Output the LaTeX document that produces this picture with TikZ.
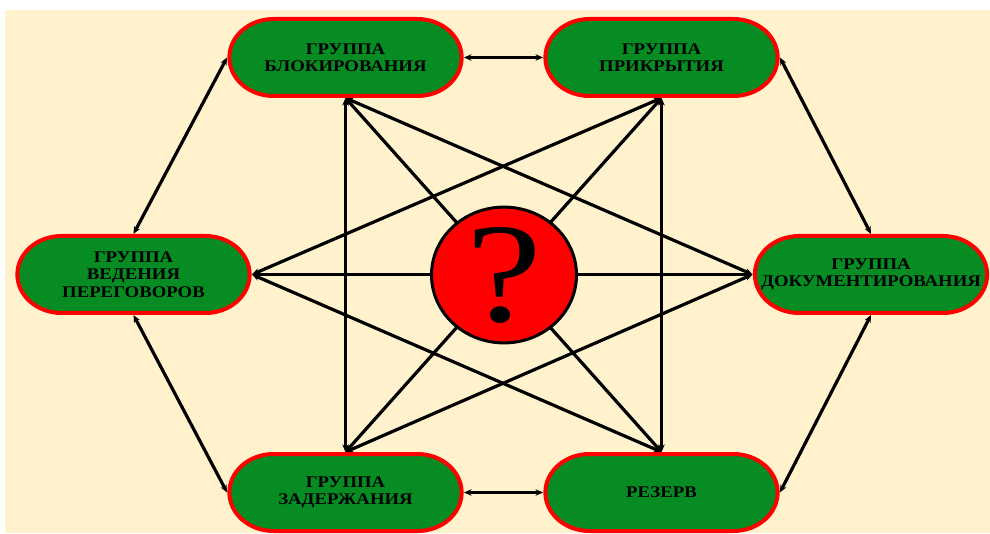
\documentclass[tikz,border=0pt]{standalone}
\usepackage{fontspec}
\setmainfont{Liberation Serif}
\newfontfamily\qfont{Liberation Serif}[FakeStretch=1.2]
\usetikzlibrary{arrows.meta,shapes.misc,shapes.geometric}
\definecolor{cream}{HTML}{FFF2CC}
\definecolor{grpgreen}{HTML}{068C22}
\definecolor{grpred}{HTML}{FF0000}
\newcommand{\GrpF}{\fontsize{16.3}{17.5}\selectfont\bfseries}
\newcommand{\QmF}{\qfont\fontsize{142}{142}\selectfont}
\tikzset{
  >={Stealth[length=7.5pt,width=6.5pt]},
  grp/.style={rounded rectangle, fill=grpgreen, draw=grpred, line width=4pt,
              xscale=1.15, transform shape,
              minimum width=206pt, minimum height=77pt, align=center, font=\GrpF, inner sep=2pt},
  link/.style={<->, line width=3.2pt, draw=black},
  qmark/.style={ellipse, fill=grpred, draw=black, line width=3pt,
                minimum width=145pt, minimum height=121pt, inner sep=0pt, font=\QmF},
}

\begin{document}
\begin{tikzpicture}[x=1pt,y=1pt]
  \useasboundingbox (0,0) rectangle (990,533);
  \fill[cream] (5,0) rectangle (990,523);
  % groups
  \node[grp] (blk) at (345.5,475.5) {ГРУППА\\БЛОКИРОВАНИЯ};
  \node[grp] (prk) at (661.5,475.5) {ГРУППА\\ПРИКРЫТИЯ};
  \node[grp] (neg) at (133.5,258.5) {ГРУППА\\ВЕДЕНИЯ\\ПЕРЕГОВОРОВ};
  \node[grp] (doc) at (871,258.5) {ГРУППА\\ДОКУМЕНТИРОВАНИЯ};
  \node[grp] (zad) at (345.5,40.5) {ГРУППА\\ЗАДЕРЖАНИЯ};
  \node[grp] (rez) at (661.5,40.5) {РЕЗЕРВ};
  % outer ring
  \draw[link] (neg.north) -- (blk.west);
  \draw[link] (blk.east) -- (prk.west);
  \draw[link] (prk.east) -- (doc.north);
  \draw[link] (doc.south) -- (rez.east);
  \draw[link] (rez.west) -- (zad.east);
  \draw[link] (zad.west) -- (neg.south);
  % star
  \draw[link] (blk.south) -- (zad.north);
  \draw[link] (blk.south) -- (rez.north);
  \draw[link] (blk.south) -- (doc.west);
  \draw[link] (prk.south) -- (rez.north);
  \draw[link] (prk.south) -- (zad.north);
  \draw[link] (prk.south) -- (neg.east);
  \draw[link] (neg.east) -- (doc.west);
  \draw[link] (neg.east) -- (rez.north);
  \draw[link] (doc.west) -- (zad.north);
  \node[qmark] (q) at (504,258) {\raisebox{-9pt}{?}};
\end{tikzpicture}
\end{document}
